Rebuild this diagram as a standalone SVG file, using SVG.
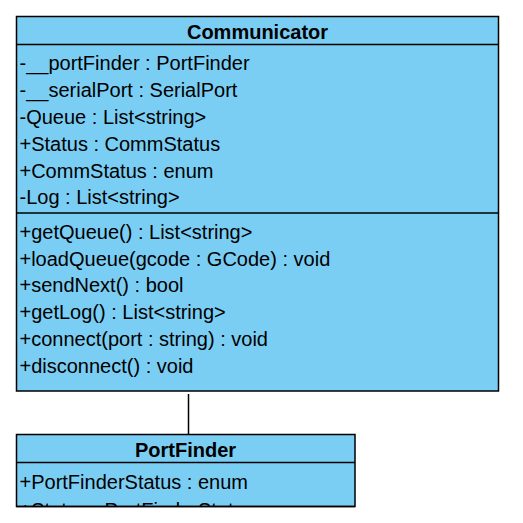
<svg xmlns="http://www.w3.org/2000/svg" width="523" height="523" viewBox="0 0 523 523">
<style>
.box{fill:#7ACEF4;stroke:#000;stroke-width:1.5}
.div{stroke:#000;stroke-width:1.5}
.t{font-family:"Liberation Sans",Arial,sans-serif;font-size:20px;fill:#000}
.h{font-family:"Liberation Sans",Arial,sans-serif;font-size:20px;font-weight:bold;fill:#000;text-anchor:middle}
.conn{stroke:#000;stroke-width:1.5;fill:none}
</style>
<rect width="523" height="523" fill="#fff"/>
<g id="connectors">
<line class="conn" x1="188.5" y1="394" x2="188.5" y2="434"/>
</g>
<g id="Communicator">
<rect class="box" x="16.5" y="16.5" width="482" height="374.5"/>
<line class="div" x1="16.5" y1="44.5" x2="498.5" y2="44.5"/>
<line class="div" x1="16.5" y1="213" x2="498.5" y2="213"/>
<text class="h" x="257.5" y="38.5">Communicator</text>
<text class="t" x="19.5" y="70.3">-__portFinder : PortFinder</text>
<text class="t" x="19.5" y="97.1">-__serialPort : SerialPort</text>
<text class="t" x="19.5" y="123.9">-Queue : List&lt;string&gt;</text>
<text class="t" x="19.5" y="150.7">+Status : CommStatus</text>
<text class="t" x="19.5" y="177.5">+CommStatus : enum</text>
<text class="t" x="19.5" y="204.3">-Log : List&lt;string&gt;</text>
<text class="t" x="19.5" y="238.8">+getQueue() : List&lt;string&gt;</text>
<text class="t" x="19.5" y="265.6">+loadQueue(gcode : GCode) : void</text>
<text class="t" x="19.5" y="292.4">+sendNext() : bool</text>
<text class="t" x="19.5" y="319.2">+getLog() : List&lt;string&gt;</text>
<text class="t" x="19.5" y="346">+connect(port : string) : void</text>
<text class="t" x="19.5" y="372.8">+disconnect() : void</text>
</g>
<g id="PortFinder">
<defs><clipPath id="pfclip"><rect x="16" y="434" width="340" height="72.5"/></clipPath></defs>
<rect class="box" x="16.5" y="434.5" width="338.5" height="72"/>
<line class="div" x1="16.5" y1="462.5" x2="355" y2="462.5"/>
<text class="h" x="185.5" y="456.5">PortFinder</text>
<g clip-path="url(#pfclip)">
<text class="t" x="19.5" y="488.8">+PortFinderStatus : enum</text>
<text class="t" x="19.5" y="516.5">+Status : PortFinderStatus</text>
</g>
<line class="div" x1="16.5" y1="506.5" x2="355" y2="506.5"/>
</g>
</svg>
